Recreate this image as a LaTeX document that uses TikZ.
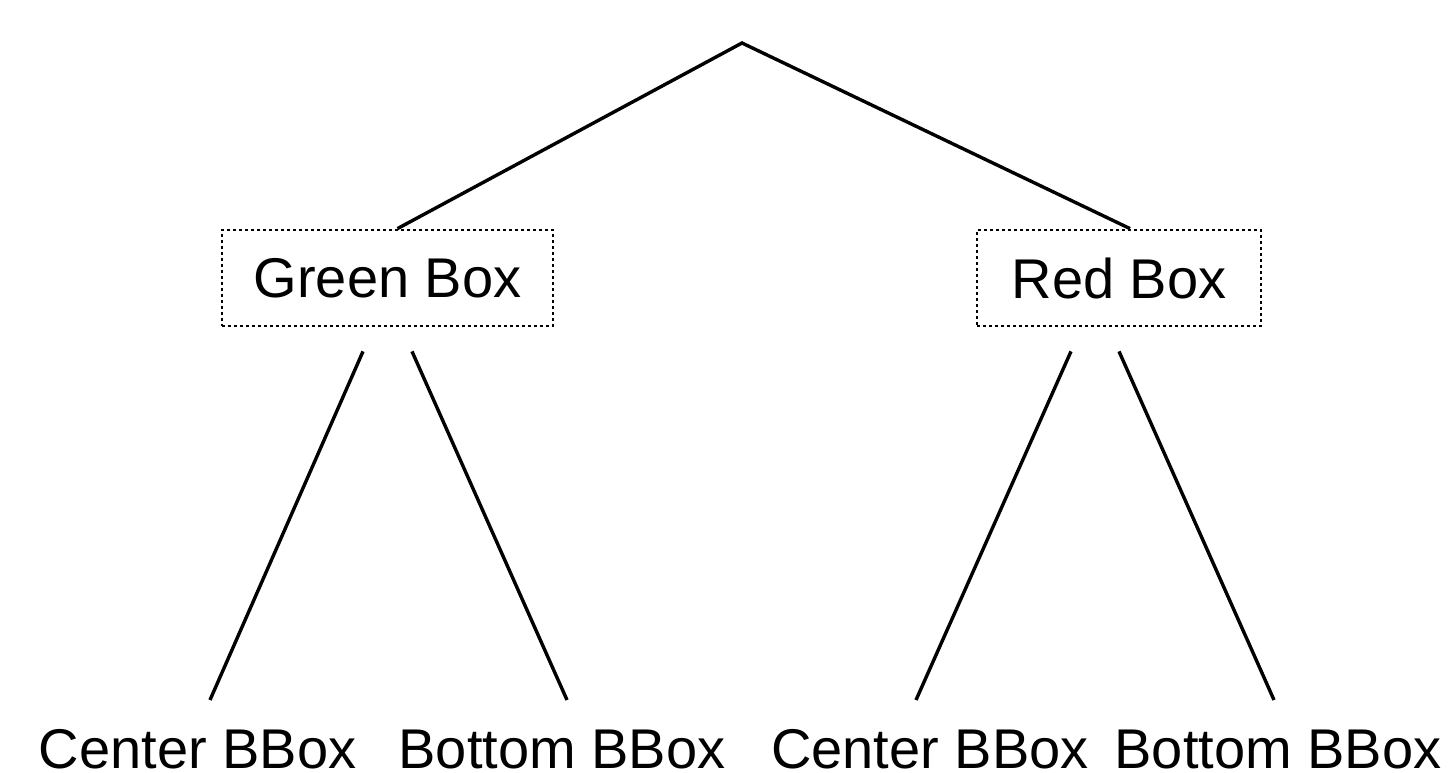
\documentclass[tikz,border=0pt]{standalone}
\usepackage{fontspec}
\setmainfont{Liberation Sans}
\begin{document}
\begin{tikzpicture}[x=1pt,y=-1pt,
  conn/.style={line width=3.4pt, black},
  boxnode/.style={draw, line width=2.8pt, dash pattern=on 2.8pt off 3.2pt, minimum height=96pt, inner sep=0pt, font=\fontsize{56}{60}\selectfont},
  leaf/.style={anchor=base, inner sep=0pt, font=\fontsize{56}{60}\selectfont}]
\useasboundingbox (0,0) rectangle (1454,773);
\coordinate (top) at (742,43);
\node[boxnode, minimum width=331pt] (gb) at (387.5,278) {Green Box};
\node[boxnode, minimum width=284pt] (rb) at (1119,278) {Red Box};
\node[leaf] (c1) at (197.5,768) {Center BBox};
\node[leaf] (b1) at (562,768) {Bottom BBox};
\node[leaf] (c2) at (930,768) {Center BBox};
\node[leaf] (b2) at (1278,768) {Bottom BBox};
\coordinate (gbl) at ([xshift=-24.5pt,yshift=-24pt]gb.south);
\coordinate (gbr) at ([xshift=24.5pt,yshift=-24pt]gb.south);
\coordinate (rbl) at ([xshift=-48pt,yshift=-24pt]rb.south);
\coordinate (rbr) at ([xshift=0pt,yshift=-24pt]rb.south);
\coordinate (c1t) at ([xshift=12.5pt,yshift=68pt]c1.base);
\coordinate (b1t) at ([xshift=5pt,yshift=68pt]b1.base);
\coordinate (c2t) at ([xshift=-14pt,yshift=68pt]c2.base);
\coordinate (b2t) at ([xshift=-4pt,yshift=68pt]b2.base);
\draw[conn, line join=miter] ([xshift=10pt]gb.north) -- (top) -- ([xshift=11pt]rb.north);
\draw[conn] (gbl) -- (c1t);
\draw[conn] (gbr) -- (b1t);
\draw[conn] (rbl) -- (c2t);
\draw[conn] (rbr) -- (b2t);
\end{tikzpicture}
\end{document}
